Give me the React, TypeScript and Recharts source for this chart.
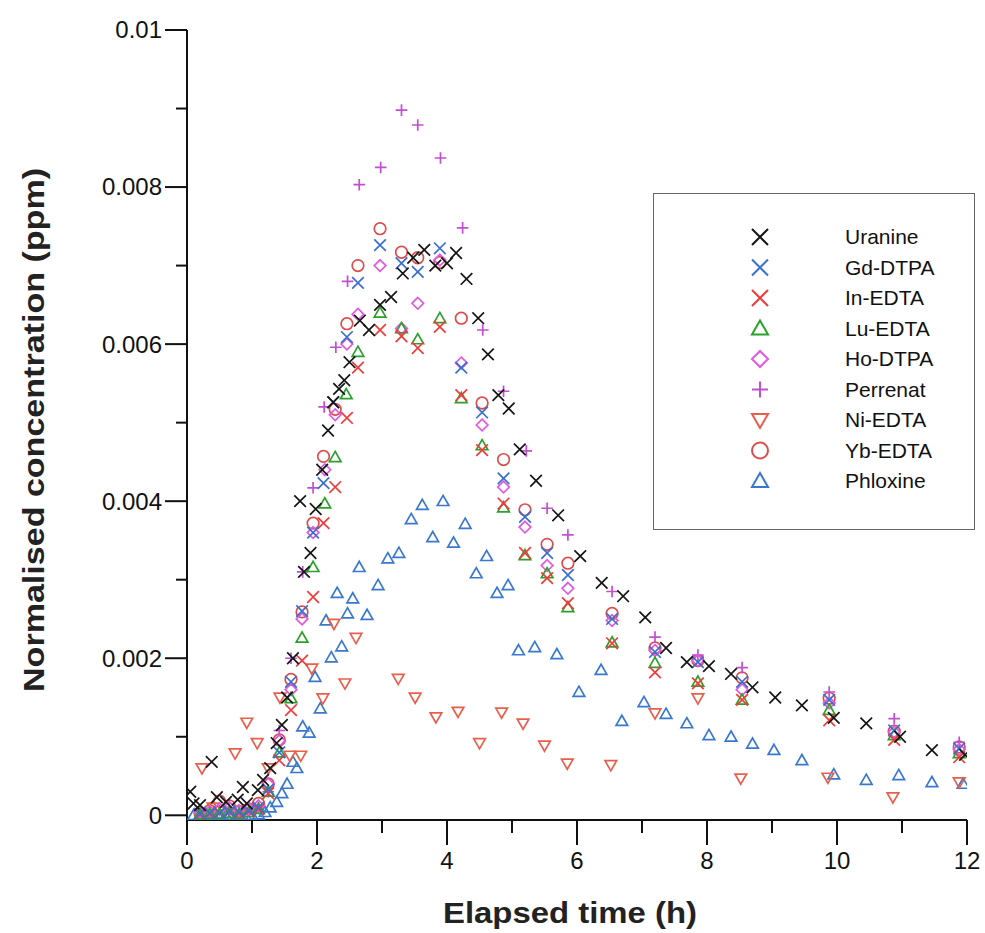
import React from 'react';
import { ScatterChart, Scatter, XAxis, YAxis } from 'recharts';

// [elapsed time (h), normalised concentration (ppm)]
const uranine: [number, number][] = [
  [0.05, 0.0003], [0.1, 0.00015], [0.2, 0.00013], [0.38, 0.00068], [0.46, 0.00023], [0.6, 0.00017],
  [0.78, 0.0002], [0.86, 0.00036], [0.92, 0.00015], [1.09, 0.00032], [1.17, 0.00045], [1.28, 0.0006],
  [1.38, 0.00092], [1.46, 0.00115], [1.54, 0.0015], [1.63, 0.002], [1.74, 0.004], [1.8, 0.0031],
  [1.9, 0.00334], [1.98, 0.0039], [2.08, 0.0044], [2.17, 0.0049], [2.25, 0.00526], [2.34, 0.00543],
  [2.42, 0.00554], [2.5, 0.00577], [2.66, 0.0063], [2.8, 0.00618], [2.97, 0.0065], [3.14, 0.0066],
  [3.32, 0.0069], [3.48, 0.0071], [3.65, 0.0072], [3.82, 0.007], [4.0, 0.00703], [4.14, 0.00716],
  [4.3, 0.00683], [4.48, 0.00633], [4.63, 0.00587], [4.79, 0.00535], [4.95, 0.00518], [5.12, 0.00466],
  [5.37, 0.00426], [5.71, 0.00382], [6.05, 0.0033], [6.38, 0.00296], [6.71, 0.00279], [7.05, 0.00252],
  [7.37, 0.00213], [7.69, 0.00195], [8.03, 0.0019], [8.37, 0.0018], [8.7, 0.00163], [9.05, 0.0015],
  [9.46, 0.0014], [9.95, 0.00124], [10.45, 0.00117], [10.97, 0.001], [11.46, 0.00083], [11.97, 0.00077],
];

const gdDtpa: [number, number][] = [
  [0.2, 0.00002], [0.35, 0.00003], [0.5, 0.00003], [0.65, 0.00005], [0.8, 0.00004], [0.95, 0.00006],
  [1.1, 0.0001], [1.25, 0.00033], [1.42, 0.0008], [1.6, 0.0017], [1.77, 0.0026], [1.94, 0.0036],
  [2.1, 0.00423], [2.25, 0.00526], [2.46, 0.00609], [2.63, 0.00678], [2.97, 0.00726], [3.3, 0.00703],
  [3.55, 0.00692], [3.89, 0.00722], [4.22, 0.0057], [4.54, 0.00513], [4.87, 0.00429], [5.2, 0.0038],
  [5.54, 0.00334], [5.86, 0.00306], [6.54, 0.0025], [7.2, 0.00208], [7.86, 0.00195], [8.54, 0.0017],
  [9.88, 0.00147], [10.88, 0.00108], [11.88, 0.00085],
];

const inEdta: [number, number][] = [
  [0.2, 0.00001], [0.35, 0.00002], [0.5, 0.00003], [0.65, 0.00004], [0.8, 0.00003], [0.95, 0.00005],
  [1.1, 0.00008], [1.25, 0.00028], [1.42, 0.0007], [1.6, 0.00134], [1.77, 0.00197], [1.94, 0.00278],
  [2.1, 0.00372], [2.28, 0.00418], [2.46, 0.00506], [2.63, 0.0057], [2.97, 0.00618], [3.3, 0.0061],
  [3.55, 0.00595], [3.89, 0.00622], [4.22, 0.00535], [4.54, 0.00465], [4.87, 0.00397], [5.2, 0.00334],
  [5.54, 0.00302], [5.86, 0.0027], [6.54, 0.00219], [7.2, 0.00182], [7.86, 0.00168], [8.54, 0.00147],
  [9.88, 0.00121], [10.88, 0.00096], [11.88, 0.00074],
];

const luEdta: [number, number][] = [
  [0.2, 0.00001], [0.35, 0.00002], [0.5, 0.00002], [0.65, 0.00003], [0.8, 0.00002], [0.95, 0.00004],
  [1.1, 0.00008], [1.25, 0.0003], [1.42, 0.0008], [1.6, 0.00149], [1.77, 0.00226], [1.94, 0.00316],
  [2.12, 0.00397], [2.28, 0.00456], [2.45, 0.00536], [2.63, 0.0059], [2.97, 0.0064], [3.3, 0.0062],
  [3.55, 0.00606], [3.89, 0.00633], [4.22, 0.00531], [4.54, 0.00471], [4.87, 0.00392], [5.2, 0.00331],
  [5.54, 0.00308], [5.86, 0.00265], [6.54, 0.0022], [7.2, 0.00194], [7.86, 0.0017], [8.54, 0.00147],
  [9.88, 0.00134], [10.88, 0.00102], [11.88, 0.00079],
];

const hoDtpa: [number, number][] = [
  [0.2, 0.00003], [0.35, 0.00005], [0.5, 0.00008], [0.65, 0.0001], [0.8, 0.00006], [0.95, 0.00008],
  [1.1, 0.00012], [1.25, 0.0004], [1.42, 0.00095], [1.6, 0.0016], [1.77, 0.0025], [1.94, 0.0036],
  [2.12, 0.0044], [2.28, 0.0051], [2.46, 0.006], [2.63, 0.00638], [2.97, 0.007], [3.3, 0.0062],
  [3.55, 0.00652], [3.89, 0.00707], [4.22, 0.00576], [4.54, 0.00497], [4.87, 0.00418], [5.2, 0.00367],
  [5.54, 0.00318], [5.86, 0.00289], [6.54, 0.00248], [7.2, 0.0021], [7.86, 0.00197], [8.54, 0.0016],
  [9.88, 0.00143], [10.88, 0.00106], [11.88, 0.00084],
];

const perrenat: [number, number][] = [
  [0.2, 0.00002], [0.35, 0.00004], [0.5, 0.00006], [0.65, 0.00008], [0.8, 0.00005], [0.95, 0.00007],
  [1.1, 0.0001], [1.25, 0.0003], [1.42, 0.00108], [1.6, 0.002], [1.78, 0.0031], [1.94, 0.00417],
  [2.11, 0.0052], [2.29, 0.00596], [2.47, 0.0068], [2.65, 0.00803], [2.98, 0.00825], [3.3, 0.00898],
  [3.55, 0.00879], [3.9, 0.00837], [4.24, 0.00748], [4.55, 0.00618], [4.87, 0.0054], [5.22, 0.00464],
  [5.54, 0.00391], [5.86, 0.00357], [6.54, 0.00285], [7.2, 0.00227], [7.86, 0.00204], [8.54, 0.00188],
  [9.88, 0.00157], [10.88, 0.00123], [11.88, 0.00093],
];

const niEdta: [number, number][] = [
  [0.23, 0.0006], [0.4, 0.0001], [0.58, 0.00005], [0.74, 0.00079], [0.92, 0.00118], [1.08, 0.00092],
  [1.25, 0.0006], [1.43, 0.0015], [1.58, 0.00076], [1.75, 0.00076], [1.92, 0.00187], [2.09, 0.00149],
  [2.26, 0.00244], [2.43, 0.00168], [2.6, 0.00226], [3.25, 0.00174], [3.51, 0.0015], [3.83, 0.00125],
  [4.17, 0.00132], [4.5, 0.00092], [4.84, 0.00131], [5.17, 0.00117], [5.5, 0.00089], [5.85, 0.00066],
  [6.52, 0.00064], [7.2, 0.0013], [7.86, 0.00149], [8.52, 0.00047], [9.86, 0.00048], [10.86, 0.00023],
  [11.88, 0.00042],
];

const ybEdta: [number, number][] = [
  [0.2, 0.00003], [0.35, 0.00006], [0.5, 0.00018], [0.65, 0.00012], [0.8, 0.00005], [0.95, 0.00008],
  [1.1, 0.00015], [1.25, 0.0004], [1.42, 0.00096], [1.6, 0.00173], [1.77, 0.00259], [1.94, 0.00372],
  [2.1, 0.00457], [2.28, 0.00517], [2.46, 0.00626], [2.63, 0.007], [2.97, 0.00747], [3.3, 0.00717],
  [3.55, 0.0071], [3.89, 0.00704], [4.22, 0.00633], [4.54, 0.00525], [4.87, 0.00453], [5.2, 0.00389],
  [5.54, 0.00345], [5.86, 0.00321], [6.54, 0.00257], [7.2, 0.00213], [7.86, 0.00197], [8.54, 0.00175],
  [9.88, 0.00149], [10.88, 0.00107], [11.88, 0.00087],
];

const phloxine: [number, number][] = [
  [0.1, 0], [0.2, 0], [0.3, 0], [0.4, 0], [0.5, 0], [0.6, 0], [0.7, 0], [0.8, 0], [0.9, 0], [1.0, 0],
  [1.1, 0.00001], [1.2, 0.00004], [1.28, 0.0001], [1.38, 0.00017], [1.46, 0.00028], [1.54, 0.0004],
  [1.63, 0.00068], [1.69, 0.0006], [1.78, 0.00113], [1.88, 0.00105], [1.97, 0.00176], [2.05, 0.00136],
  [2.14, 0.00248], [2.22, 0.00201], [2.31, 0.00283], [2.38, 0.00215], [2.47, 0.00257], [2.55, 0.00276],
  [2.65, 0.00316], [2.77, 0.00255], [2.94, 0.00293], [3.09, 0.00327], [3.26, 0.00334], [3.45, 0.00377],
  [3.62, 0.00395], [3.78, 0.00354], [3.94, 0.004], [4.1, 0.00347], [4.28, 0.00371], [4.45, 0.00308],
  [4.61, 0.0033], [4.77, 0.00283], [4.94, 0.00293], [5.1, 0.0021], [5.35, 0.00214], [5.69, 0.00205],
  [6.03, 0.00157], [6.37, 0.00185], [6.69, 0.0012], [7.03, 0.00144], [7.37, 0.00129], [7.69, 0.00117],
  [8.03, 0.00102], [8.37, 0.001], [8.7, 0.00091], [9.03, 0.00083], [9.46, 0.0007], [9.95, 0.00052],
  [10.45, 0.00045], [10.95, 0.00051], [11.46, 0.00042], [11.94, 0.0004],
];

const xTicks = [0, 1, 2, 3, 4, 5, 6, 7, 8, 9, 10, 11, 12];
const xTickLabels = ['0', '', '2', '', '4', '', '6', '', '8', '', '10', '', '12'];
const yTicks = [0, 0.001, 0.002, 0.003, 0.004, 0.005, 0.006, 0.007, 0.008, 0.009, 0.01];
const yTickLabels = ['0', '', '0.002', '', '0.004', '', '0.006', '', '0.008', '', '0.01'];

type Kind = 'x' | 'tri' | 'diamond' | 'plus' | 'down' | 'circle';

const series: { name: string; data: [number, number][]; kind: Kind; color: string }[] = [
  { name: 'Uranine', data: uranine, kind: 'x', color: '#151515' },
  { name: 'Gd-DTPA', data: gdDtpa, kind: 'x', color: '#3b6fcf' },
  { name: 'In-EDTA', data: inEdta, kind: 'x', color: '#ef3b3b' },
  { name: 'Lu-EDTA', data: luEdta, kind: 'tri', color: '#2ca02c' },
  { name: 'Ho-DTPA', data: hoDtpa, kind: 'diamond', color: '#e05ae0' },
  { name: 'Perrenat', data: perrenat, kind: 'plus', color: '#c24fd2' },
  { name: 'Ni-EDTA', data: niEdta, kind: 'down', color: '#e8604c' },
  { name: 'Yb-EDTA', data: ybEdta, kind: 'circle', color: '#dc4c4c' },
  { name: 'Phloxine', data: phloxine, kind: 'tri', color: '#3a78cf' },
];

const FONT = '"Liberation Sans", Arial, Helvetica, sans-serif';

const Marker = ({ cx, cy, kind, color, s = 5.8, sw = 1.7 }: any) => {
  if (cx == null || cy == null) return null;
  const common = { fill: 'none', stroke: color, strokeWidth: sw };
  switch (kind) {
    case 'x':
      return (
        <path d={`M${cx - s},${cy - s}L${cx + s},${cy + s}M${cx - s},${cy + s}L${cx + s},${cy - s}`} {...common} />
      );
    case 'plus':
      return <path d={`M${cx - s},${cy}L${cx + s},${cy}M${cx},${cy - s}L${cx},${cy + s}`} {...common} />;
    case 'tri':
      return <path d={`M${cx},${cy - s}L${cx + s},${cy + s * 0.75}L${cx - s},${cy + s * 0.75}Z`} {...common} />;
    case 'down':
      return <path d={`M${cx},${cy + s}L${cx + s},${cy - s * 0.75}L${cx - s},${cy - s * 0.75}Z`} {...common} />;
    case 'diamond':
      return <path d={`M${cx},${cy - s}L${cx + s},${cy}L${cx},${cy + s}L${cx - s},${cy}Z`} {...common} />;
    default:
      return <circle cx={cx} cy={cy} r={s} {...common} />;
  }
};

const XTick = ({ x, y, payload }: any) => {
  const i = xTicks.indexOf(payload.value);
  const major = payload.value % 2 === 0;
  return (
    <g>
      <line x1={x} y1={y} x2={x} y2={y + (major ? 25 : 13)} stroke="#111" strokeWidth={2} />
      {major && (
        <text x={x} y={y + 41} dy="0.35em" textAnchor="middle" fontSize={24} fontFamily={FONT} fill="#111">
          {xTickLabels[i]}
        </text>
      )}
    </g>
  );
};

const YTick = ({ x, y, payload }: any) => {
  const i = yTicks.indexOf(payload.value);
  const major = i % 2 === 0;
  return (
    <g>
      <line x1={x} y1={y} x2={x - (major ? 22 : 11)} y2={y} stroke="#111" strokeWidth={2} />
      {major && (
        <text x={x - 25} y={y} dy="0.35em" textAnchor="end" fontSize={24} fontFamily={FONT} fill="#111">
          {yTickLabels[i]}
        </text>
      )}
    </g>
  );
};

const Legend = () => (
  <div
    style={{
      position: 'absolute',
      left: 653,
      top: 193,
      width: 322,
      height: 337,
      border: '1px solid #666',
      boxSizing: 'border-box',
      background: '#fff',
    }}
  >
    <svg width={320} height={335}>
      {series.map((s, i) => {
        const cy = 43 + i * 30.5;
        return (
          <g key={s.name}>
            <Marker cx={106} cy={cy} kind={s.kind} color={s.color} s={8} sw={2} />
            <text x={191} y={cy} dy="0.35em" fontSize={21} fontFamily={FONT} fill="#111">
              {s.name}
            </text>
          </g>
        );
      })}
    </svg>
  </div>
);

export default function App() {
  const drawOrder = [...series].reverse();
  return (
    <div style={{ position: 'absolute', left: 0, top: 0, width: 985, height: 933, background: '#fff' }}>
      <ScatterChart width={985} height={933} margin={{ top: 30, right: 18, bottom: 0, left: 0 }}>
        <XAxis
          type="number"
          dataKey="0"
          domain={[0, 12]}
          ticks={xTicks}
          interval={0}
          tickLine={false}
          tickSize={0}
          tickMargin={0}
          tick={<XTick />}
          axisLine={{ stroke: '#111', strokeWidth: 2 }}
          height={113}
          allowDataOverflow
        />
        <YAxis
          type="number"
          dataKey="1"
          domain={[-0.00006, 0.01]}
          ticks={yTicks}
          interval={0}
          tickLine={false}
          tickSize={0}
          tickMargin={0}
          tick={<YTick />}
          axisLine={{ stroke: '#111', strokeWidth: 2 }}
          width={187}
          allowDataOverflow
        />
        {drawOrder.map((s) => (
          <Scatter
            key={s.name}
            name={s.name}
            data={s.data}
            isAnimationActive={false}
            shape={(p: any) => <Marker cx={p.cx} cy={p.cy} kind={s.kind} color={s.color} />}
          />
        ))}
        <text
          x={570}
          y={912}
          dy="0.35em"
          textAnchor="middle"
          fontSize={30}
          fontWeight="bold"
          fontFamily={FONT}
          fill="#222"
          textLength={254}
          lengthAdjust="spacingAndGlyphs"
        >
          Elapsed time (h)
        </text>
        <text
          x={33}
          y={430}
          dy="0.35em"
          transform="rotate(-90 33 430)"
          textAnchor="middle"
          fontSize={30}
          fontWeight="bold"
          fontFamily={FONT}
          fill="#222"
          textLength={524}
          lengthAdjust="spacingAndGlyphs"
        >
          Normalised concentration (ppm)
        </text>
      </ScatterChart>
      <Legend />
    </div>
  );
}
